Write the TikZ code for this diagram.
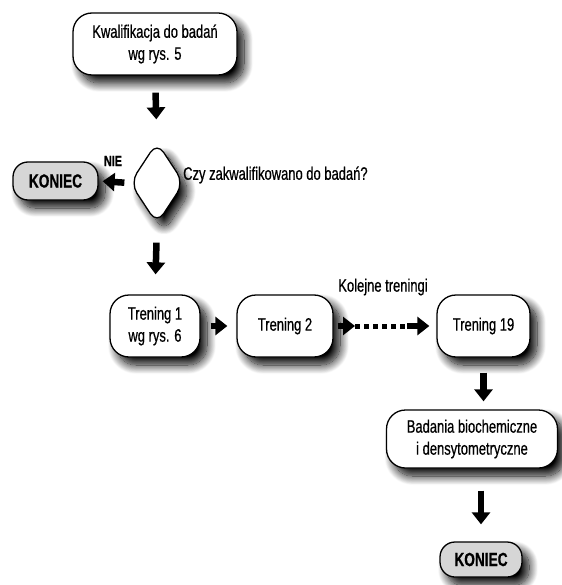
\documentclass[tikz,border=0pt]{standalone}
\usepackage{fontspec}
\setmainfont[FakeStretch=0.72,FakeBold=0.6]{Liberation Sans}
\usetikzlibrary{shapes.geometric,arrows.meta,shadows.blur}
\tikzset{
  shd/.style={blur shadow={shadow xshift=7pt, shadow yshift=-8pt, shadow blur radius=9pt, shadow blur steps=16, shadow opacity=100}},
  box/.style={draw=black, line width=1.3pt, rounded corners=19pt, fill=white, shd, align=center, inner sep=0pt, font=\fontsize{18}{22}\selectfont},
  endbox/.style={box, fill=black!16, rounded corners=15pt, font=\fontsize{19}{22}\selectfont\bfseries},
  dec/.style={draw=black, line width=1.3pt, diamond, rounded corners=12pt, fill=white, shd, inner sep=0pt},
  barrow/.style={line width=6.5pt, -{Triangle[width=18pt,length=12pt]}},
  dots/.style={line width=5pt, dash pattern=on 5pt off 4pt},
  lbl/.style={font=\fontsize{18}{21}\selectfont, inner sep=0pt}
}
\begin{document}
\begin{tikzpicture}[x=1pt,y=-1pt]
\useasboundingbox (0,0) rectangle (561,585);
\node[box, minimum width=164pt, minimum height=62pt] (q) at (155,44) {Kwalifikacja do badań\\wg rys. 5};
\node[dec, minimum width=54pt, minimum height=82pt] (d) at (157,183) {};
\node[endbox, minimum width=85pt, minimum height=38pt] (k1) at (55.5,181) {KONIEC};
\node[lbl, anchor=west] (qt) at (183,175) {Czy zakwalifikowano do badań?};
\node[font=\fontsize{15}{16}\selectfont\bfseries, inner sep=0pt] (nie) at (113,161) {NIE};
\node[box, minimum width=90pt, minimum height=62pt] (t1) at (155,326) {Trening 1\\wg rys. 6};
\node[box, minimum width=96pt, minimum height=62pt] (t2) at (285,326) {Trening 2};
\node[box, minimum width=93pt, minimum height=62pt] (t19) at (483.5,326) {Trening 19};
\node[lbl] (kt) at (383,287) {Kolejne treningi};
\node[box, minimum width=171pt, minimum height=58pt] (b) at (472,439) {Badania biochemiczne\\i densytometryczne};
\node[endbox, minimum width=82pt, minimum height=35pt] (k2) at (481,559.5) {KONIEC};
\coordinate (m1) at (355,326);
\coordinate (m2) at (407,326);
\draw[barrow, shorten <=17pt, shorten >=22pt] (q.south) -- (d.north);
\draw[barrow, shorten <=5pt, shorten >=4pt] (d.west) -- (k1.east);
\draw[barrow, shorten <=18pt, shorten >=20pt] (d.south) -- (t1.north);
\draw[barrow, shorten <=10pt, shorten >=9pt] (t1.east) -- (t2.east -| t2.west);
\draw[barrow, shorten <=4pt] (t2.east) -- (m1);
\draw[dots] (m1) -- (m2);
\draw[barrow, shorten >=7pt] (m2) -- (t19.west);
\draw[barrow, shorten <=15pt, shorten >=8pt] (t19.south) -- (t19.south |- b.north);
\draw[barrow, shorten <=22pt, shorten >=17pt] (k2.north |- b.south) -- (k2.north);
\end{tikzpicture}
\end{document}
